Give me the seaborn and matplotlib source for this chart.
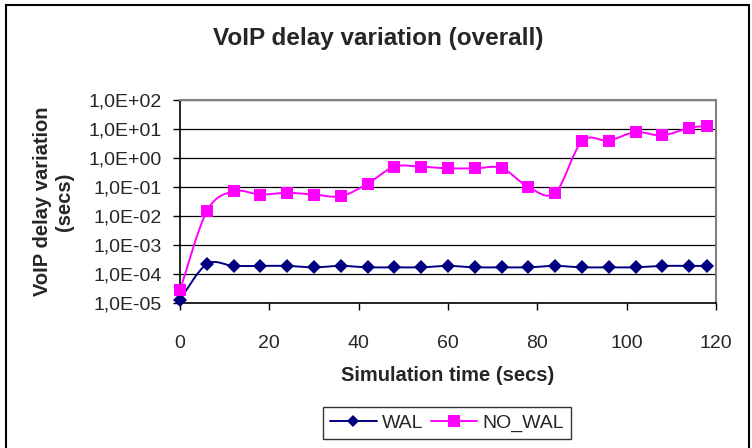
import numpy as np
import pandas as pd
import seaborn as sns
import matplotlib.pyplot as plt
from matplotlib.path import Path
from matplotlib.patches import PathPatch, Rectangle
from matplotlib.lines import Line2D
from matplotlib.ticker import FuncFormatter, FixedLocator

# Dados
time_s = [0, 6, 12, 18, 24, 30, 36, 42, 48, 54, 60, 66, 72, 78, 84, 90, 96, 102, 108, 114, 118]
wal = [1.3e-5, 2.2e-4, 1.9e-4, 1.9e-4, 1.9e-4, 1.7e-4, 1.9e-4, 1.7e-4, 1.7e-4, 1.7e-4, 1.9e-4,
       1.7e-4, 1.7e-4, 1.7e-4, 1.9e-4, 1.7e-4, 1.7e-4, 1.7e-4, 1.9e-4, 1.9e-4, 1.9e-4]
no_wal = [2.7e-5, 0.0145, 0.071, 0.055, 0.063, 0.055, 0.048, 0.13, 0.50, 0.50, 0.44,
          0.44, 0.45, 0.10, 0.063, 3.8, 4.0, 7.8, 6.0, 11.0, 12.6]
series_names = ['WAL', 'NO_WAL']
y_ticks = [1e-5, 1e-4, 1e-3, 1e-2, 1e-1, 1e0, 1e1, 1e2]
x_ticks = [0, 20, 40, 60, 80, 100, 120]

COLORS = {'WAL': '#000080', 'NO_WAL': '#FF00FF'}
MARKERS = {'WAL': 'D', 'NO_WAL': 's'}
MSIZE = {'WAL': 7, 'NO_WAL': 9}

sns.set_style('white')
plt.rcParams['font.family'] = ['Liberation Sans', 'DejaVu Sans']

df = pd.DataFrame({'time': time_s * 2,
                   'value': wal + no_wal,
                   'serie': ['WAL'] * len(wal) + ['NO_WAL'] * len(no_wal)})


def smooth_path(x, y):
    """Curva suavizada estilo Excel (Catmull-Rom -> Bezier) em espaço log."""
    x = np.asarray(x, float)
    ly = np.log10(np.asarray(y, float))
    pts = np.column_stack([x, ly])
    n = len(pts)
    verts = [pts[0]]
    codes = [Path.MOVETO]
    for i in range(n - 1):
        p0 = pts[max(i - 1, 0)]
        p1 = pts[i]
        p2 = pts[i + 1]
        p3 = pts[min(i + 2, n - 1)]
        c1 = p1 + (p2 - p0) / 6.0
        c2 = p2 - (p3 - p1) / 6.0
        verts += [c1, c2, p2]
        codes += [Path.CURVE4] * 3
    verts = np.array(verts)
    verts[:, 1] = 10 ** verts[:, 1]
    return Path(verts, codes)


fig = plt.figure(figsize=(7.52, 4.48), dpi=100)
ax = fig.add_axes([180 / 752, 1 - 303 / 448, 536 / 752, 203 / 448])

ax.set_yscale('log')
ax.set_xlim(0, 120)
ax.set_ylim(1e-5, 1e2)

# gridlines horizontais
for yt in y_ticks:
    ax.axhline(yt, color='black', lw=0.9, zorder=1)

for name, vals in zip(series_names, [wal, no_wal]):
    patch = PathPatch(smooth_path(time_s, vals), facecolor='none',
                      edgecolor=COLORS[name], lw=1.4, zorder=2)
    ax.add_patch(patch)

sns.lineplot(data=df, x='time', y='value', hue='serie', style='serie',
             palette=COLORS, markers=MARKERS, dashes=False, linestyle='',
             ax=ax, legend=False, zorder=3)
for line, name in zip(ax.lines[-2:], series_names):
    line.set_markersize(MSIZE[name])
    line.set_markeredgewidth(0)
    line.set_clip_on(False)

ax.yaxis.set_major_locator(FixedLocator(y_ticks))
ax.yaxis.set_minor_locator(FixedLocator([]))
ax.yaxis.set_major_formatter(FuncFormatter(lambda v, p: format(v, '.1E').replace('.', ',')))
ax.set_xticks(x_ticks)

ax.tick_params(axis='both', direction='out', length=5, width=1, color='black',
               labelsize=14, bottom=True, left=True)
ax.tick_params(axis='x', pad=18)
ax.tick_params(axis='y', pad=8)

for side in ['left', 'bottom']:
    ax.spines[side].set_color('black')
    ax.spines[side].set_linewidth(1.2)
for side in ['top', 'right']:
    ax.spines[side].set_color('#808080')
    ax.spines[side].set_linewidth(1.5)

ax.set_xlabel('Simulation time (secs)', fontsize=14.5, fontweight='bold', labelpad=10)
ax.set_ylabel('VoIP delay variation\n(secs)', fontsize=14.5, fontweight='bold')
ax.yaxis.set_label_coords(-0.198, 0.5)

fig.suptitle('VoIP delay variation (overall)', x=0.503, y=1 - 38 / 448, va='center',
             fontsize=17.5, fontweight='bold')

handles = [Line2D([], [], color=COLORS[n], marker=MARKERS[n], markersize=MSIZE[n] - 1,
                  markeredgewidth=0, lw=1.4) for n in series_names]
leg = fig.legend(handles, series_names, loc='center', bbox_to_anchor=(447 / 752, 1 - 423 / 448),
                 ncol=2, fontsize=14, frameon=True, fancybox=False, handlelength=2.4,
                 handletextpad=0.25, columnspacing=0.4, borderpad=0.35, borderaxespad=0)
leg.get_frame().set_edgecolor('black')
leg.get_frame().set_linewidth(1.0)

# moldura externa
fig.patches.append(Rectangle((6 / 752, -0.05), 743 / 752, 1.05 - 5 / 448,
                             transform=fig.transFigure, fill=False,
                             edgecolor='black', lw=1.5))

fig.savefig('out.png', dpi=100)
